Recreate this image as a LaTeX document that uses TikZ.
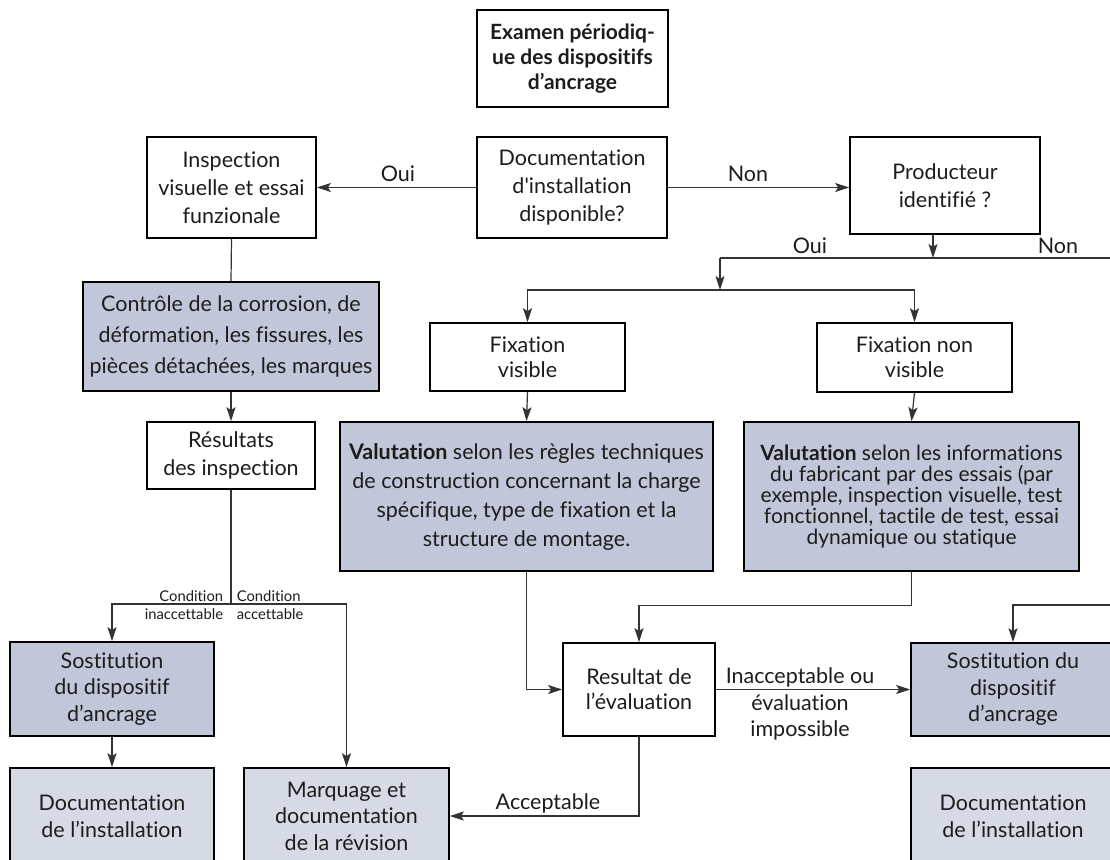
\documentclass[tikz,border=0pt]{standalone}
\usepackage{fontspec}
\setmainfont{Lato}[Ligatures={TeXOff,NoCommon}]
\usetikzlibrary{arrows.meta}
\definecolor{darkfill}{HTML}{C1C7D9}
\definecolor{lightfill}{HTML}{D6DAE5}
\definecolor{linegray}{HTML}{333333}
\definecolor{ink}{HTML}{1C1C1C}
\begin{document}
\begin{tikzpicture}[x=1pt, y=-1pt, every node/.style = {shape=rectangle, draw, align=center, inner sep=0pt, line width=1.7pt, text=ink, font=\fontsize{21.5}{26.5}\selectfont}, >={Stealth[length=14pt, width=9pt, inset=3pt]}]
	\tikzstyle{top} = [font=\bfseries\fontsize{21}{25}\selectfont]
	\tikzstyle{plain} = [fill=white]
	\tikzstyle{tinted} = [fill=darkfill]
	\tikzstyle{pale} = [fill=lightfill]
	\tikzstyle{note} = [draw=none]
	\tikzstyle{small} = [draw=none, font=\fontsize{14.8}{18}\selectfont]
	\tikzstyle{conn} = [draw=linegray, line width=1.2pt]
	\useasboundingbox (0,0) rectangle (1110,859);
	\clip (0,0) rectangle (1110,859);
	\node[top, minimum width=191, minimum height=97] (titre) at (572.5,58.5) {Examen périodiq-\\ue des dispositifs\\d’ancrage};
	\node[plain, minimum width=169, minimum height=101, font=\fontsize{21.5}{28}\selectfont] (inspect) at (231.5,187.5) {Inspection\\visuelle et essai\\funzionale};
	\node[plain, minimum width=190, minimum height=101, font=\fontsize{21.5}{28}\selectfont] (doc) at (572,187.5) {Documentation\\d'installation\\disponible?};
	\node[plain, minimum width=190, minimum height=97, font=\fontsize{21.5}{28}\selectfont] (prod) at (945,185.5) {Producteur\\identifié ?};
	\node[tinted, minimum width=296, minimum height=109, font=\fontsize{21.5}{31}\selectfont] (controle) at (231,336.5) {Contrôle de la corrosion, de\\déformation, les fissures, les\\pièces détachées, les marques};
	\node[plain, minimum width=195, minimum height=68, font=\fontsize{21.5}{25}\selectfont] (fixv) at (527.5,357) {Fixation\\visible};
	\node[plain, minimum width=195, minimum height=69, font=\fontsize{21.5}{25}\selectfont] (fixnv) at (914.5,357.5) {Fixation non\\visible};
	\node[plain, minimum width=168, minimum height=67, font=\fontsize{21.5}{28}\selectfont] (resinsp) at (231,455.5) {Résultats\\des inspection};
	\node[tinted, minimum width=373, minimum height=149, font=\fontsize{21.5}{29}\selectfont] (val1) at (526.5,496.5) {\textbf{Valutation} selon les règles techniques\\de construction concernant la charge\\spécifique, type de fixation et la\\structure de montage.};
	\node[tinted, minimum width=335, minimum height=149, font=\fontsize{21}{21}\selectfont] (val2) at (911.5,496.5) {\textbf{Valutation} selon les informations\\du fabricant par des essais (par\\exemple, inspection visuelle, test\\fonctionnel, tactile de test, essai\\dynamique ou statique};
	\node[tinted, minimum width=204, minimum height=94] (sost1) at (112,689) {Sostitution\\du dispositif\\d’ancrage};
	\node[plain, minimum width=152, minimum height=93, font=\fontsize{21.5}{25}\selectfont] (res) at (639,689.5) {Resultat de\\l’évaluation};
	\node[tinted, minimum width=204, minimum height=93] (sost2) at (1013,689.5) {Sostitution du\\dispositif\\d’ancrage};
	\node[pale, minimum width=204, minimum height=96] (doc1) at (112,816) {Documentation\\de l’installation};
	\node[pale, minimum width=205, minimum height=96] (marq) at (346.5,816) {Marquage et\\documentation\\de la révision};
	\node[pale, minimum width=204, minimum height=96] (doc2) at (1013,816) {Documentation\\de l’installation};
	\coordinate (jprod) at (933,258);
	\coordinate (nonout) at (1110,258);
	\coordinate (oui) at (720,258);
	\coordinate (fork) at (720,290);
	\coordinate (cond) at (231,604);
	\coordinate (nonin) at (1110,605);
	\draw[conn,->] (doc.west) -- (inspect.east);
	\draw[conn,->] (doc.east) -- (doc.east -| prod.west);
	\draw[conn,->] (prod.south -| jprod) -- (jprod);
	\draw[conn] (nonout) -- (oui);
	\draw[conn,->] (oui) -- (fork);
	\draw[conn,->] (fork) -| (fixv.north);
	\draw[conn,->] (fork) -| (fixnv.north);
	\draw[conn] (inspect.south) -- (controle.north);
	\draw[conn,->] (controle.south) -- (resinsp.north);
	\draw[conn] (resinsp.south) -- (cond);
	\draw[conn,->] (cond) -| (sost1.north);
	\draw[conn,->] (cond) -| (marq.north);
	\draw[conn,->] (sost1.south) -- (doc1.north);
	\draw[conn,->] (fixv.south) -- (val1.north);
	\draw[conn,->] (fixnv.south) -- (val2.north);
	\draw[conn,->] (val1.south) |- (res.west);
	\draw[conn,->] (val2.south) -- ++(0,34) -| (res.north);
	\draw[conn,->] (nonin) -| (sost2.north);
	\draw[conn,->] (res.east) -- (sost2.west);
	\draw[conn,->] (res.south) |- (marq.east);
	\node[note] at (398,174) {Oui};
	\node[note] at (748,174) {Non};
	\node[note] at (810,246) {Oui};
	\node[note] at (1058,246) {Non};
	\node[small, left, align=right] at (224,605) {Condition\\inaccettable};
	\node[small, right, align=left] at (236,605) {Condition\\accettable};
	\node[note] at (800,704) {Inacceptable ou\\évaluation\\impossible};
	\node[note] at (548,803) {Acceptable};
\end{tikzpicture}
\end{document}
